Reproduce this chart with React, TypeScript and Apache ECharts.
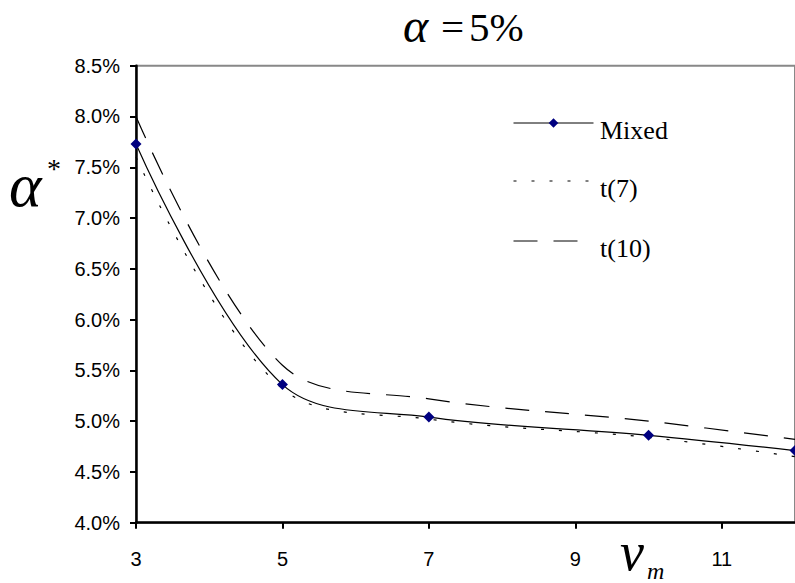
import React, { useEffect, useRef } from "react";
import * as echarts from "echarts";

const xValues = [3, 5, 7, 10, 12];
const mixedValues = [7.73, 5.36, 5.04, 4.86, 4.71];
const t7Values = [7.6, 5.32, 5.02, 4.84, 4.65];
const t10Values = [8.0, 5.55, 5.22, 5.0, 4.82];
const seriesNames = ["Mixed", "t(7)", "t(10)"];

const pairs = (ys: number[]) => xValues.map((x, i) => [x, ys[i]]);

const legendTops = [112, 170, 230];
const legendTextY = [130, 188, 248];

export default function App() {
  const ref = useRef<HTMLDivElement>(null);
  useEffect(() => {
    if (!ref.current) return;
    const chart = echarts.init(ref.current, null, { renderer: "svg" });
    chart.setOption({
      animation: false,
      backgroundColor: "#fff",
      textStyle: { fontFamily: "Liberation Sans", fontSize: 15, color: "#000" },
      legend: seriesNames.map((name, i) => ({
        orient: "vertical",
        left: 508,
        top: legendTops[i],
        itemWidth: 80,
        itemHeight: 12,
        data: [name],
        lineStyle: { width: 1 },
        formatter: () => "",
        textStyle: { fontFamily: "Liberation Serif", fontSize: 26, color: "#000" },
      })),
      grid: {
        left: 136,
        right: -10.4,
        top: 65.7,
        bottom: 60.3,
        show: true,
        borderColor: "#888",
        borderWidth: 2,
        backgroundColor: "transparent",
      },
      xAxis: {
        type: "value",
        min: 3,
        max: 12,
        interval: 2,
        splitLine: { show: false },
        axisLine: { lineStyle: { color: "#000", width: 2.5 } },
        axisTick: { inside: false, length: 6, lineStyle: { color: "#000", width: 2 } },
        axisLabel: {
          margin: 26,
          showMaxLabel: false,
          fontFamily: "Liberation Sans",
          fontSize: 20,
          color: "#000",
        },
      },
      yAxis: {
        type: "value",
        min: 4,
        max: 8.5,
        interval: 0.5,
        splitLine: { show: false },
        axisLine: { show: true, lineStyle: { color: "#000", width: 2.5 } },
        axisTick: { show: true, inside: false, length: 6, lineStyle: { color: "#000", width: 2 } },
        axisLabel: {
          margin: 16,
          fontFamily: "Liberation Sans",
          fontSize: 20,
          color: "#000",
          formatter: (v: number) => v.toFixed(1) + "%",
        },
      },
      graphic: [
        {
          type: "text",
          x: 403,
          y: 25,
          style: { text: "α", font: "italic 48px 'Liberation Serif'", fill: "#000", verticalAlign: "middle" },
        },
        {
          type: "text",
          x: 441,
          y: 27,
          style: { text: "=", font: "41px 'Liberation Serif'", fill: "#000", verticalAlign: "middle" },
        },
        {
          type: "text",
          x: 469,
          y: 27,
          style: { text: "5%", font: "41px 'Liberation Serif'", fill: "#000", verticalAlign: "middle" },
        },
        ...seriesNames.map((name, i) => ({
          type: "text",
          x: 600,
          y: legendTextY[i],
          style: {
            text: name,
            font: "26px 'Liberation Serif'",
            fill: "#000",
            verticalAlign: "middle",
          },
        })),
        {
          type: "text",
          left: 9,
          top: 154,
          style: { text: "α", font: "italic 62px 'Liberation Serif'", fill: "#000" },
        },
        {
          type: "text",
          left: 47,
          top: 154,
          style: { text: "*", font: "28px 'Liberation Serif'", fill: "#000" },
        },
        {
          type: "text",
          left: 620,
          top: 525,
          style: { text: "ν", font: "italic 54px 'Liberation Serif'", fill: "#000" },
        },
        {
          type: "text",
          left: 647,
          top: 559,
          style: { text: "m", font: "italic 24px 'Liberation Serif'", fill: "#000" },
        },
      ],
      series: [
        {
          name: seriesNames[0],
          type: "line",
          smooth: 0.35,
          data: pairs(mixedValues),
          symbol: "diamond",
          symbolSize: 11,
          itemStyle: { color: "#000080" },
          lineStyle: { color: "#000", width: 1.2 },
          z: 3,
        },
        {
          name: seriesNames[1],
          type: "line",
          smooth: 0.35,
          data: pairs(t7Values),
          symbol: "circle",
          symbolSize: 0,
          showSymbol: false,
          itemStyle: { color: "#000", opacity: 0 },
          lineStyle: { color: "#000", width: 1.2, type: [3, 15] },
        },
        {
          name: seriesNames[2],
          type: "line",
          smooth: 0.35,
          data: pairs(t10Values),
          symbol: "circle",
          symbolSize: 0,
          showSymbol: false,
          itemStyle: { color: "#000", opacity: 0 },
          lineStyle: { color: "#000", width: 1.2, type: [24, 16] },
        },
      ],
    });
    return () => chart.dispose();
  }, []);
  return (
    <div
      ref={ref}
      style={{ position: "absolute", left: 0, top: 0, width: 795, height: 583 }}
    />
  );
}
